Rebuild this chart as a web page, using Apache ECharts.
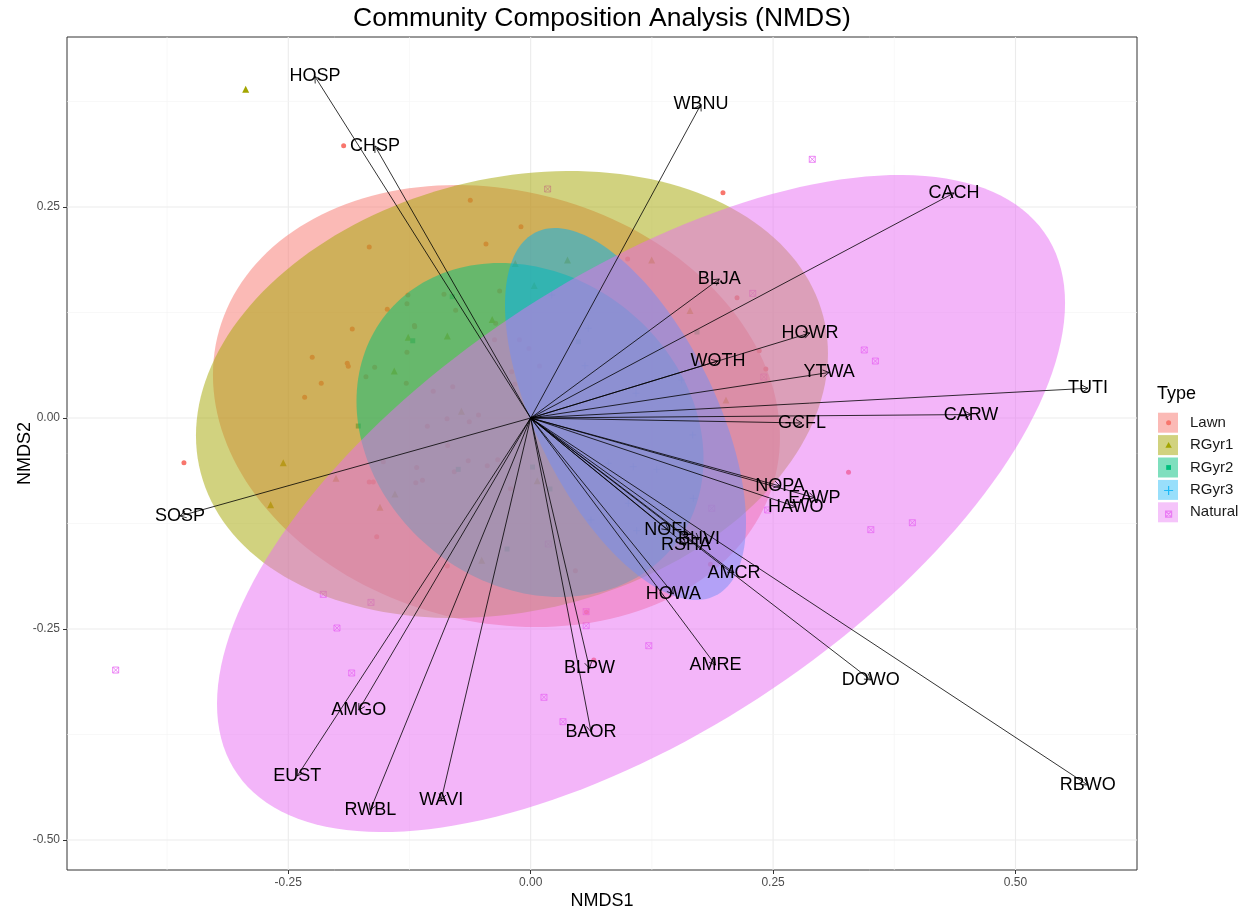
<!DOCTYPE html>
<html><head><meta charset="utf-8">
<script src="https://cdn.jsdelivr.net/npm/echarts@6/dist/echarts.min.js"></script>
<style>html,body{margin:0;padding:0;background:#fff}#chart{width:1247px;height:914px}</style>
</head><body><div id="chart"></div>
<script>
// ---------- data ----------
const groups = ['Lawn', 'RGyr1', 'RGyr2', 'RGyr3', 'Natural'];
const groupColors = ['#F8766D', '#A3A500', '#00BF7D', '#00B0F6', '#E76BF3'];

// site scores (NMDS1, NMDS2)
const lawnX = [-0.1929, 0.1983, -0.3576, 0.3278, -0.0623, -0.0100, -0.1665, -0.0461, -0.1266, -0.1479, -0.1840, -0.2253, -0.1892, -0.1881, -0.2160, -0.2331, 0.1000, 0.2128, 0.2357, 0.2425, -0.1665, -0.1623, -0.1588, -0.1176, -0.1116, -0.1185, -0.0856, -0.0644, -0.0448, -0.0340, -0.0788, -0.0208, -0.1066, -0.0863, -0.0633, -0.0538, -0.1520, -0.1005, -0.0804, -0.0196, -0.0165, 0.0091, -0.0373, -0.0116, -0.0018, 0.1854, 0.0576, 0.0651, 0.0461, -0.1276, -0.0894, -0.0774, -0.0320, -0.0361, -0.1199, -0.1276, -0.1609, -0.1699, -0.1283, -0.1196, -0.0860];
const lawnY = [0.3226, 0.2669, -0.0530, -0.0643, 0.2579, 0.2267, 0.2026, 0.2062, 0.1457, 0.1288, 0.1054, 0.0719, 0.0648, 0.0613, 0.0411, 0.0245, 0.1884, 0.1425, 0.0797, 0.0581, -0.0758, -0.0758, -0.1406, -0.0586, -0.0738, -0.0767, -0.0326, -0.0506, -0.0565, -0.0494, -0.0637, -0.0839, -0.0098, -0.0008, -0.0044, 0.0036, -0.0518, 0.0316, 0.0371, 0.0549, 0.0399, 0.0616, 0.0928, 0.0928, 0.0823, -0.1732, -0.2299, -0.2867, -0.1809, 0.1354, 0.1466, 0.1276, 0.1505, 0.1122, 0.1096, 0.0778, 0.0601, 0.0489, 0.0411, 0.1082, -0.1754];

const rgyr1X = [-0.2939, -0.2682, -0.2552, -0.2008, -0.1400, -0.1554, -0.0505, 0.0068, 0.0380, 0.1248, 0.1643, 0.2014, -0.0159, 0.0036, -0.0397, -0.1263, -0.0860, -0.1407, -0.0714];
const rgyr1Y = [0.3894, -0.1027, -0.0530, -0.0714, -0.0900, -0.1058, -0.1686, -0.0743, 0.1872, 0.1872, 0.1274, 0.0213, 0.1831, 0.1570, 0.1167, 0.0957, 0.0972, 0.0557, 0.0081];

const rgyr2X = [-0.1778, -0.0809, -0.1216, 0.1715, -0.0747, 0.0019, -0.0244, 0.0199, 0.0491];
const rgyr2Y = [-0.0095, 0.1437, 0.0915, 0.1019, -0.0608, -0.0581, -0.1552, -0.0841, 0.0904];

const rgyr3X = [0.0594, 0.0217, 0.0560, 0.0800, 0.1058, 0.1300, 0.0622, 0.1007, 0.1093, 0.1671, 0.1677, 0.1086, 0.1557];
const rgyr3Y = [0.1063, 0.1457, 0.0620, -0.0537, -0.0577, -0.0608, -0.1208, -0.1011, -0.1335, -0.0201, -0.0952, 0.0293, 0.0450];

const naturalX = [0.0175, 0.2904, 0.2290, 0.2404, 0.3440, 0.3555, 0.2444, 0.3508, 0.3936, -0.2139, -0.1647, -0.1998, -0.4280, -0.1846, 0.0137, 0.0333, 0.1218, 0.0572, 0.0572, 0.0182, 0.1867];
const naturalY = [0.2713, 0.3065, 0.1477, 0.0486, 0.0806, 0.0675, -0.1090, -0.1323, -0.1241, -0.2089, -0.2184, -0.2488, -0.2986, -0.3021, -0.3309, -0.3598, -0.2698, -0.2295, -0.2461, -0.1493, -0.1070];

// species vectors (arrow tips)
const speciesNames = ['HOSP', 'CHSP', 'WBNU', 'CACH', 'BLJA', 'HOWR', 'WOTH', 'YTWA', 'TUTI', 'CARW', 'GCFL', 'SOSP', 'NOPA', 'EAWP', 'HAWO', 'NOFL', 'RSHA', 'BHVI', 'AMCR', 'HOWA', 'AMRE', 'DOWO', 'RBWO', 'BLPW', 'BAOR', 'AMGO', 'EUST', 'RWBL', 'WAVI'];
const speciesX = [-0.2225, -0.1606, 0.1756, 0.4365, 0.1945, 0.2880, 0.1931, 0.3077, 0.5748, 0.4541, 0.2798, -0.3617, 0.2571, 0.2926, 0.2734, 0.1419, 0.1602, 0.1736, 0.2097, 0.1472, 0.1907, 0.3508, 0.5745, 0.0607, 0.0622, -0.1773, -0.2408, -0.1654, -0.0923];
const speciesY = [0.4046, 0.3223, 0.3715, 0.2666, 0.1647, 0.1007, 0.0675, 0.0539, 0.0352, 0.0041, -0.0059, -0.1161, -0.0806, -0.0944, -0.1051, -0.1327, -0.1505, -0.1437, -0.1836, -0.2085, -0.2927, -0.3104, -0.4348, -0.2966, -0.3717, -0.3460, -0.4242, -0.4645, -0.4526];

// 95% ellipse per group: centre and shape matrix (data units)
const ellipseCX = [-0.0353, -0.0193, -0.0007, 0.0978, 0.1138];
const ellipseCY = [0.0142, 0.0278, -0.0142, 0.0047, -0.1013];
const ellipseVarX = [0.08549, 0.10621, 0.03202, 0.015445, 0.19123];
const ellipseVarY = [0.06856, 0.07012, 0.03915, 0.04857, 0.15149];
const ellipseCov = [-0.01074, 0.01584, -0.00612, -0.016024, 0.10387];

// axes
const xTicks = [-0.25, 0, 0.25, 0.5];
const yTicks = [-0.5, -0.25, 0, 0.25];
const xMinor = [-0.375, -0.125, 0.125, 0.375];
const yMinor = [-0.375, -0.125, 0.125, 0.375];
const xRange = [-0.4782, 0.6253];
const yRange = [-0.5355, 0.4514];

// ---------- chart ----------
const FONT = 'Liberation Sans, Arial, sans-serif';
const chart = echarts.init(document.getElementById('chart'), null, {renderer: 'canvas'});

function zip(xs, ys) { return xs.map((x, i) => [x, ys[i]]); }
function alpha(hex, a) {
  const n = parseInt(hex.slice(1), 16);
  return 'rgba(' + (n >> 16) + ',' + ((n >> 8) & 255) + ',' + (n & 255) + ',' + a + ')';
}

const PAD = 'M0,0M20,20';
const symbols = [
  'circle',
  'triangle',
  'rect',
  'path://M3.5,0V7M0,3.5H7',
  'path://M0,0H7V7H0ZM0,0L7,7M7,0L0,7'
];
const symbolSizes = [5, 7, 5, 7, 6];
const legendGlyphs = [
  'path://' + PAD + 'M7.5,10A2.5,2.5,0,1,1,12.5,10A2.5,2.5,0,1,1,7.5,10Z',
  'path://' + PAD + 'M10,6.8L13.2,12.6L6.8,12.6Z',
  'path://' + PAD + 'M7.6,7.6H12.4V12.4H7.6Z',
  'path://' + PAD + 'M10,5.5V14.5M5.5,10H14.5',
  'path://' + PAD + 'M7,7H13V13H7ZM7,7L13,13M13,7L7,13'
];
const pointData = [zip(lawnX, lawnY), zip(rgyr1X, rgyr1Y), zip(rgyr2X, rgyr2Y), zip(rgyr3X, rgyr3Y), zip(naturalX, naturalY)];

const gridLineData = [];
xTicks.forEach(v => gridLineData.push([v, 0, 1]));
xMinor.forEach(v => gridLineData.push([v, 0, 0]));
yTicks.forEach(v => gridLineData.push([0, v, 3]));
yMinor.forEach(v => gridLineData.push([0, v, 2]));

const series = [];
series.push({
  type: 'custom', name: 'grid', coordinateSystem: 'cartesian2d', z: 0, silent: true,
  data: gridLineData,
  renderItem(params, api) {
    const kind = api.value(2);
    const vertical = kind < 2;
    const major = kind % 2 === 1;
    let p1, p2;
    if (vertical) { p1 = api.coord([api.value(0), yRange[0]]); p2 = api.coord([api.value(0), yRange[1]]); }
    else { p1 = api.coord([xRange[0], api.value(1)]); p2 = api.coord([xRange[1], api.value(1)]); }
    return {type: 'line', shape: {x1: p1[0], y1: p1[1], x2: p2[0], y2: p2[1]},
      style: {stroke: major ? '#EBEBEB' : '#F3F3F3', lineWidth: major ? 1.1 : 0.6}};
  }
});

groups.forEach((g, i) => {
  const stroked = i >= 3;
  series.push({
    type: 'scatter', name: g, z: 2, silent: true,
    data: pointData[i],
    symbol: symbols[i], symbolSize: symbolSizes[i],
    itemStyle: stroked ? {color: 'rgba(0,0,0,0)', borderColor: groupColors[i], borderWidth: 1} : {color: groupColors[i], opacity: 1}
  });
});

series.push({
  type: 'custom', name: 'ellipses', coordinateSystem: 'cartesian2d', z: 3, silent: true, clip: true,
  data: zip(ellipseCX, ellipseCY),
  renderItem(params, api) {
    const i = params.dataIndex;
    const cx = ellipseCX[i], cy = ellipseCY[i];
    const l11 = Math.sqrt(ellipseVarX[i]);
    const l21 = ellipseCov[i] / l11;
    const l22 = Math.sqrt(ellipseVarY[i] - l21 * l21);
    const pts = [];
    const N = 180;
    for (let k = 0; k < N; k++) {
      const t = 2 * Math.PI * k / N;
      pts.push(api.coord([cx + l11 * Math.cos(t), cy + l21 * Math.cos(t) + l22 * Math.sin(t)]));
    }
    return {type: 'polygon', shape: {points: pts}, style: {fill: alpha(groupColors[i], 0.5)}};
  }
});

series.push({
  type: 'custom', name: 'vectors', coordinateSystem: 'cartesian2d', z: 4, silent: true,
  data: zip(speciesX, speciesY),
  renderItem(params, api) {
    const p0 = api.coord([0, 0]);
    const p1 = api.coord([api.value(0), api.value(1)]);
    const ang = Math.atan2(p1[1] - p0[1], p1[0] - p0[0]);
    const L = 7, a = Math.PI / 6;
    const h1 = [p1[0] - L * Math.cos(ang - a), p1[1] - L * Math.sin(ang - a)];
    const h2 = [p1[0] - L * Math.cos(ang + a), p1[1] - L * Math.sin(ang + a)];
    return {type: 'group', children: [
      {type: 'line', shape: {x1: p0[0], y1: p0[1], x2: p1[0], y2: p1[1]}, style: {stroke: '#000', lineWidth: 0.8}},
      {type: 'polyline', shape: {points: [h1, p1, h2]}, style: {stroke: '#000', fill: null, lineWidth: 0.8}}
    ]};
  }
});

series.push({
  type: 'custom', name: 'species', coordinateSystem: 'cartesian2d', z: 5, silent: true,
  data: zip(speciesX, speciesY),
  renderItem(params, api) {
    const p = api.coord([api.value(0), api.value(1)]);
    return {type: 'text', x: p[0], y: p[1], style: {text: speciesNames[params.dataIndex], align: 'center', verticalAlign: 'middle',
      fontSize: 18, fontFamily: FONT, fill: '#000'}};
  }
});

const legendBase = {
  orient: 'vertical', left: 1158, top: 412.7, padding: 0, itemGap: 2.4,
  itemWidth: 20, itemHeight: 20, selectedMode: false,
  textStyle: {fontSize: 15, fontFamily: FONT, color: '#1A1A1A', lineHeight: 20, padding: [0, 0, 0, 7]}
};

const axisCommon = {
  type: 'value', nameLocation: 'middle', nameMoveOverlap: false,
  nameTextStyle: {fontSize: 18, color: '#000', fontFamily: FONT},
  axisLine: {show: false, onZero: false},
  splitLine: {show: false}
};

const option = {
  animation: false,
  backgroundColor: '#fff',
  title: [
    {text: 'Community Composition Analysis (NMDS)', left: 353, top: 5, padding: 0,
      textStyle: {fontSize: 26.5, fontWeight: 'normal', color: '#000', fontFamily: FONT}},
    {text: 'Type', left: 1157, top: 385, padding: 0,
      textStyle: {fontSize: 18, fontWeight: 'normal', color: '#000', fontFamily: FONT}}
  ],
  grid: {left: 67, right: 110, top: 37, bottom: 44, show: true, borderColor: '#333333', borderWidth: 1,
    backgroundColor: '#fff', containLabel: false, outerBoundsMode: 'none'},
  xAxis: Object.assign({}, axisCommon, {
    min: xRange[0], max: xRange[1], name: 'NMDS1', nameGap: 22,
    axisTick: {show: true, customValues: xTicks, length: 4, lineStyle: {color: '#333333'}},
    axisLabel: {customValues: xTicks, formatter: v => v.toFixed(2), color: '#4D4D4D', fontSize: 12, fontFamily: FONT, margin: 7}
  }),
  yAxis: Object.assign({}, axisCommon, {
    min: yRange[0], max: yRange[1], name: 'NMDS2', nameGap: 33,
    axisTick: {show: true, customValues: yTicks, length: 4, lineStyle: {color: '#333333'}},
    axisLabel: {customValues: yTicks, formatter: v => v.toFixed(2), color: '#4D4D4D', fontSize: 12, fontFamily: FONT, margin: 7}
  }),
  legend: [
    Object.assign({}, legendBase, {
      data: groups.map((g, i) => ({name: g, icon: 'rect', itemStyle: {color: alpha(groupColors[i], 0.5), borderWidth: 0}}))
    }),
    Object.assign({}, legendBase, {
      textStyle: Object.assign({}, legendBase.textStyle, {color: 'rgba(0,0,0,0)'}),
      data: groups.map((g, i) => ({name: g, icon: legendGlyphs[i],
        itemStyle: i >= 3 ? {color: 'rgba(0,0,0,0)', borderColor: groupColors[i], borderWidth: 1.2}
                          : {color: groupColors[i], borderWidth: 0}}))
    })
  ],
  series: series
};
chart.setOption(option);
</script>
</body></html>
